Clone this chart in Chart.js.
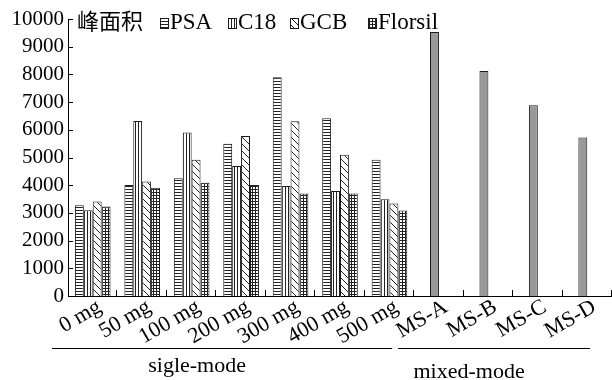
<!DOCTYPE html>
<html>
<head>
<meta charset="utf-8">
<script src="https://cdn.jsdelivr.net/npm/chart.js@4/dist/chart.umd.min.js"></script>
<style>
html, body { margin: 0; padding: 0; background: #fff; }
#wrap { width: 612px; height: 380px; }
</style>
</head>
<body>
<div id="wrap"><canvas id="chart" width="612" height="380"></canvas></div>
<script>
const categories = ['0 mg', '50 mg', '100 mg', '200 mg', '300 mg', '400 mg', '500 mg', 'MS-A', 'MS-B', 'MS-C', 'MS-D']
const psa = [3280, 4010, 4250, 5500, 7900, 6420, 4920]
const c18 = [3100, 6320, 5900, 4690, 3970, 3790, 3490]
const gcb = [3410, 4130, 4920, 5780, 6310, 5100, 3340]
const florsil = [3230, 3910, 4090, 4010, 3700, 3700, 3090]
const mixed = [9530, 8120, 6890, 5720]
const yTicks = [0, 1000, 2000, 3000, 4000, 5000, 6000, 7000, 8000, 9000, 10000]
const groupNames = ['sigle-mode', 'mixed-mode']
const yTitle = '峰面积'

const SERIF = '"Liberation Serif", "Times New Roman", serif'
const ink = '#1a1a1a'

// small hatch tiles
function makePattern(w, h, draw) {
    const c = document.createElement('canvas')
    c.width = w
    c.height = h
    const g = c.getContext('2d')
    g.fillStyle = '#fff'
    g.fillRect(0, 0, w, h)
    g.fillStyle = '#222'
    draw(g)
    return document.getElementById('chart').getContext('2d').createPattern(c, 'repeat')
}

const hatch = {
    psa: makePattern(1, 3, g => g.fillRect(0, 0, 1, 1)),
    c18: makePattern(3, 1, g => g.fillRect(0, 0, 1, 1)),
    gcb: makePattern(7, 7, g => { for (let i = 0; i < 7; i++) g.fillRect(i, i, 1, 1) }),
    florsil: makePattern(3, 3, g => { g.fillRect(0, 0, 3, 1); g.fillRect(0, 0, 1, 3) })
}

const pad = (arr) => categories.map((c, i) => i < arr.length ? arr[i] : null)
const padMixed = categories.map((c, i) => i >= psa.length ? mixed[i - psa.length] : null)

const datasets = [
    { label: 'PSA', data: pad(psa), backgroundColor: hatch.psa, stack: 'a' },
    { label: 'C18', data: pad(c18), backgroundColor: hatch.c18, stack: 'b' },
    { label: 'GCB', data: pad(gcb), backgroundColor: hatch.gcb, stack: 'c' },
    { label: 'Florsil', data: pad(florsil), backgroundColor: hatch.florsil, stack: 'd' },
    { label: 'mixed', data: padMixed, backgroundColor: '#999', stack: 'b' }
].map(d => Object.assign(d, { borderColor: ink, borderWidth: 1, categoryPercentage: 0.72, barPercentage: 1 }))

const legendX = [160, 228, 290, 368]

const decorations = {
    id: 'decorations',
    afterDraw(chart) {
        const { ctx, chartArea, scales: { x, y } } = chart
        const n = categories.length
        const edge = (i) => x.getPixelForDecimal(i / n)
        ctx.save()
        ctx.strokeStyle = '#000'
        ctx.lineWidth = 1

        // inward ticks
        ctx.beginPath()
        y.ticks.forEach((t, i) => {
            const py = Math.round(y.getPixelForTick(i)) + 0.5
            ctx.moveTo(chartArea.left, py)
            ctx.lineTo(chartArea.left + 5, py)
        })
        for (let i = 1; i <= n; i++) {
            const px = Math.round(edge(i)) - 0.5
            ctx.moveTo(px, chartArea.bottom)
            ctx.lineTo(px, chartArea.bottom - 6)
        }
        ctx.stroke()

        // y title at the top
        ctx.fillStyle = '#000'
        ctx.textBaseline = 'middle'
        ctx.textAlign = 'left'
        ctx.font = '22px "Noto Sans CJK SC"'
        ctx.fillText(yTitle, chartArea.left + 9, 21)

        // legend
        ctx.font = '23px ' + SERIF
        chart.data.datasets.slice(0, 4).forEach((ds, i) => {
            const lx = legendX[i]
            ctx.fillStyle = ds.backgroundColor
            ctx.fillRect(lx, 18, 8, 10)
            ctx.strokeStyle = ink
            ctx.strokeRect(lx + 0.5, 18.5, 8, 10)
            ctx.fillStyle = '#000'
            ctx.fillText(ds.label, lx + 10, 23)
        })

        // group brackets below the axis
        const spans = [[0, psa.length], [psa.length, n]]
        const textY = [366, 372]
        ctx.font = '22px ' + SERIF
        ctx.textAlign = 'center'
        spans.forEach(([a, b], gi) => {
            const x1 = edge(a) - 16
            const x2 = edge(b) - 22
            ctx.beginPath()
            ctx.strokeStyle = '#000'
            ctx.moveTo(x1, 348.5)
            ctx.lineTo(x2, 348.5)
            ctx.stroke()
            ctx.fillText(groupNames[gi], (x1 + x2) / 2 - 25, textY[gi])
        })
        ctx.restore()
    }
}

new Chart(document.getElementById('chart'), {
    type: 'bar',
    data: { labels: categories, datasets: datasets },
    options: {
        responsive: false,
        animation: false,
        layout: { padding: { top: 19, right: 0, bottom: 34, left: 0 } },
        plugins: { legend: { display: false }, tooltip: { enabled: false } },
        scales: {
            x: {
                stacked: true,
                grid: { display: false, drawTicks: false },
                border: { display: true, color: '#000', width: 1 },
                ticks: {
                    color: '#000',
                    font: { family: SERIF, size: 22 },
                    minRotation: 30,
                    maxRotation: 30,
                    autoSkip: false,
                    labelOffset: 7,
                    padding: -2
                },
                afterFit: (s) => { s.height = 50 }
            },
            y: {
                stacked: true,
                min: 0,
                max: 10000,
                grid: { display: false, drawTicks: false },
                border: { display: true, color: '#000', width: 1 },
                ticks: {
                    color: '#000',
                    font: { family: SERIF, size: 21 },
                    padding: 4,
                    stepSize: 1000,
                    autoSkip: false,
                    callback: (v) => yTicks.includes(v) ? String(v) : ''
                },
                afterFit: (s) => { s.width = 68 }
            }
        }
    },
    plugins: [decorations]
})
</script>
</body>
</html>
